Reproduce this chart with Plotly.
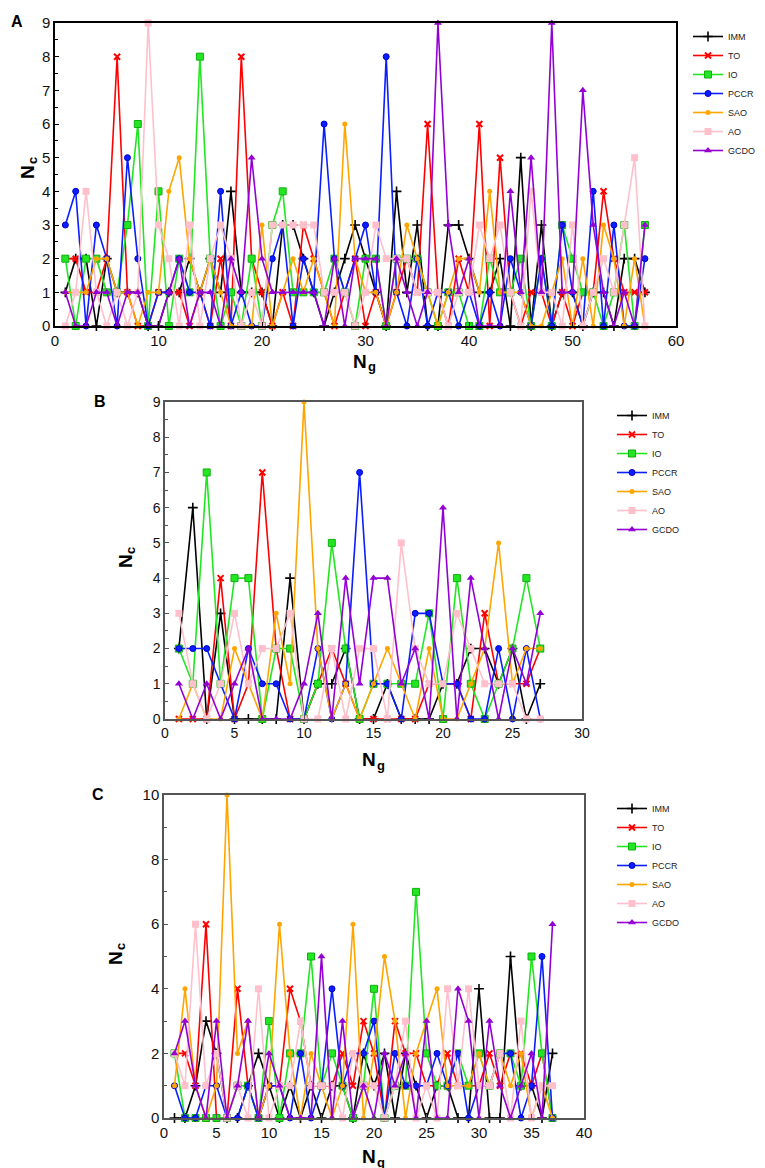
import plotly.graph_objects as go

W, H = 765, 1168

series_names = ["IMM", "TO", "IO", "PCCR", "SAO", "AO", "GCDO"]

# ---------------- Panel A (Ng = 1..57) ----------------
ng_A = list(range(1, 58))
IMM_A = [1,2,2,0,2,1,1,1,0,0,1,1,2,1,2,1,4,1,1,1,0,3,3,2,1,0,1,2,3,2,1,0,4,1,3,0,0,3,3,2,1,1,2,0,5,0,3,0,1,1,0,1,1,0,2,2,1]
TO_A = [2,2,1,1,2,8,1,0,0,1,1,1,0,1,0,2,0,8,2,1,0,1,0,3,2,1,0,1,2,0,1,0,1,2,1,6,1,0,2,1,6,0,5,1,0,1,1,0,1,0,1,1,4,2,1,1,1]
IO_A = [2,0,2,2,1,1,3,6,0,4,0,2,1,8,2,0,1,0,2,0,3,4,1,1,1,1,2,1,0,2,2,0,2,2,2,1,0,1,1,0,0,2,1,1,2,0,2,0,3,2,1,1,0,1,3,0,3]
PCCR_A = [3,4,0,3,2,0,5,2,0,1,1,2,1,1,0,4,0,1,0,0,2,3,0,2,1,6,2,1,2,3,1,8,1,0,2,0,1,1,0,1,0,1,0,2,1,0,2,0,3,1,0,4,0,3,0,0,2]
SAO_A = [1,1,1,2,2,1,1,0,1,1,4,5,2,1,2,1,0,0,0,3,0,1,2,1,2,1,0,6,2,1,1,0,1,3,2,1,0,1,2,2,1,4,1,1,1,0,0,1,2,0,2,0,3,2,0,2,0]
AO_A = [0,1,4,1,0,1,0,1,9,3,2,0,3,0,2,3,2,0,1,0,3,3,3,3,3,1,1,1,0,1,3,2,2,2,1,1,1,0,1,1,3,2,3,1,0,4,1,1,0,3,0,1,2,1,3,5,0]
GCDO_A = [1,0,0,1,1,0,1,1,0,0,1,2,0,1,1,0,2,1,5,2,1,1,1,1,1,0,2,0,2,2,2,0,2,1,0,1,9,3,1,2,0,0,0,4,1,5,1,9,1,1,7,3,1,0,1,0,3]

# ---------------- Panel B (Ng = 1..27) ----------------
ng_B = list(range(1, 28))
IMM_B = [2,6,0,3,0,0,0,0,4,0,1,1,2,0,0,1,0,0,0,1,1,2,2,1,2,0,1]
TO_B = [0,0,0,4,0,1,7,2,0,0,1,2,1,0,0,0,0,0,1,1,1,0,3,1,1,1,2]
IO_B = [2,1,7,1,4,4,0,2,2,0,1,5,2,0,1,1,1,1,3,0,4,1,0,1,2,4,2]
PCCR_B = [2,2,2,1,0,2,1,1,0,0,2,0,1,7,1,1,0,3,3,1,1,0,0,2,0,2,0]
SAO_B = [0,1,0,0,2,1,0,3,1,9,2,0,1,0,1,2,1,0,2,0,0,1,2,5,1,2,2]
AO_B = [3,1,0,1,3,1,2,2,3,0,0,2,0,2,2,0,5,2,1,1,3,2,1,1,1,0,0]
GCDO_B = [1,0,1,0,1,2,0,0,0,1,3,0,4,1,4,4,1,2,0,6,0,4,2,0,2,1,3]

# ---------------- Panel C (Ng = 1..37) ----------------
ng_C = list(range(1, 38))
IMM_C = [0,0,1,3,2,0,0,1,2,1,0,1,0,1,0,1,1,0,2,1,2,0,2,1,0,1,1,0,0,4,0,0,5,1,1,0,2]
TO_C = [2,2,1,6,0,0,4,1,0,1,1,4,3,1,1,1,2,1,3,2,0,3,2,2,1,1,2,1,1,1,2,1,2,2,1,2,0]
IO_C = [2,0,0,0,0,0,1,1,0,3,0,2,2,5,1,2,1,0,1,4,0,1,1,7,2,1,1,2,1,2,1,2,2,1,5,2,0]
PCCR_C = [1,0,0,1,1,0,0,1,0,1,1,0,2,0,1,4,1,2,2,3,0,2,1,1,1,2,1,2,0,1,1,2,2,0,1,5,0]
SAO_C = [1,4,1,0,1,10,2,3,0,1,6,2,0,2,1,0,1,6,0,2,5,3,0,2,3,4,1,1,1,2,1,2,1,2,0,1,0]
AO_C = [2,1,6,1,2,0,1,0,4,0,1,1,3,1,1,1,0,2,1,1,0,1,3,0,1,0,4,1,4,1,1,2,0,3,0,1,1]
GCDO_C = [2,3,1,0,3,0,1,3,0,2,1,0,0,0,5,0,3,0,1,0,2,1,2,0,3,0,0,4,3,0,3,1,0,1,2,0,6]

x_ticks_A = [0, 10, 20, 30, 40, 50, 60]
x_ticks_B = [0, 5, 10, 15, 20, 25, 30]
x_ticks_C = [0, 5, 10, 15, 20, 25, 30, 35, 40]
y_ticks_AB = list(range(0, 10))
y_ticks_C = [0, 2, 4, 6, 8, 10]

panels = [
    ("x", "y", "legend", ng_A, [IMM_A, TO_A, IO_A, PCCR_A, SAO_A, AO_A, GCDO_A]),
    ("x2", "y2", "legend2", ng_B, [IMM_B, TO_B, IO_B, PCCR_B, SAO_B, AO_B, GCDO_B]),
    ("x3", "y3", "legend3", ng_C, [IMM_C, TO_C, IO_C, PCCR_C, SAO_C, AO_C, GCDO_C]),
]

styles = {
    "IMM": dict(color="#000000", symbol="cross-thin", size=7, lw=1.6),
    "TO": dict(color="#FF0000", symbol="x-thin", size=6, lw=2),
    "IO": dict(color="#22E622", symbol="square", size=7, lw=1),
    "PCCR": dict(color="#0A1EFF", symbol="circle", size=6, lw=1),
    "SAO": dict(color="#FFA500", symbol="circle", size=5, lw=0),
    "AO": dict(color="#FFC0CB", symbol="square", size=7, lw=0),
    "GCDO": dict(color="#9400D3", symbol="triangle-up", size=7, lw=0),
}

fig = go.Figure()
for xa, ya, lg, xs, ys_list in panels:
    for name, ys in zip(series_names, ys_list):
        st = styles[name]
        mk = dict(symbol=st["symbol"], size=st["size"], color=st["color"])
        if st["symbol"] in ("cross-thin", "x-thin"):
            mk["line"] = dict(color=st["color"], width=st["lw"])
        elif name == "IO":
            mk["line"] = dict(color="#10B010", width=1)
        elif name == "PCCR":
            mk["line"] = dict(color="#0000CC", width=1)
        fig.add_trace(go.Scatter(
            x=xs, y=ys, name=name, mode="lines+markers",
            xaxis=xa, yaxis=ya, legend=lg,
            line=dict(color=st["color"], width=1.6),
            marker=mk, cliponaxis=False,
        ))

def px_x(p):
    return p / W

def px_y(p):
    return 1 - p / H

font_family = "Arial, Liberation Sans, Helvetica, sans-serif"

def xaxis_cfg(domain, rng, ticks, linecolor, size, anchor):
    return dict(domain=domain, range=rng, tickvals=ticks, showgrid=False, zeroline=False,
                showline=True, linecolor=linecolor, linewidth=1.5, mirror=True,
                ticks="inside", ticklen=4, tickcolor=linecolor, anchor=anchor,
                automargin=False,
                tickfont=dict(family=font_family, size=size, color="#111"))

def yaxis_cfg(domain, rng, ticks, linecolor, size, anchor, minor_dtick):
    return dict(domain=domain, range=rng, tickvals=ticks, showgrid=False, zeroline=False,
                showline=True, linecolor=linecolor, linewidth=1.5, mirror=True,
                ticks="inside", ticklen=4, tickcolor=linecolor, anchor=anchor,
                automargin=False,
                minor=dict(dtick=minor_dtick, ticks="inside", ticklen=3, tickcolor=linecolor),
                tickfont=dict(family=font_family, size=size, color="#111"))

fig.update_layout(
    width=W, height=H, margin=dict(l=0, r=0, t=0, b=0),
    paper_bgcolor="white", plot_bgcolor="white",
    font=dict(family=font_family),
    xaxis=xaxis_cfg([px_x(47), px_x(668)], [0, 60], x_ticks_A, "#000000", 15, "y"),
    yaxis=yaxis_cfg([px_y(318), px_y(15)], [0, 9], y_ticks_AB, "#000000", 15, "x", 0.5),
    xaxis2=xaxis_cfg([px_x(157), px_x(574)], [0, 30], x_ticks_B, "#555555", 14, "y2"),
    yaxis2=yaxis_cfg([px_y(711), px_y(394)], [0, 9], y_ticks_AB, "#555555", 14, "x2", 0.5),
    xaxis3=xaxis_cfg([px_x(156), px_x(576)], [0, 40], x_ticks_C, "#555555", 15, "y3"),
    yaxis3=yaxis_cfg([px_y(1110), px_y(787)], [0, 10], y_ticks_C, "#555555", 15, "x3", 1),
)

leg_common = dict(bgcolor="rgba(0,0,0,0)", borderwidth=0, itemwidth=30,
                  font=dict(family=font_family, size=9, color="#222"),
                  xanchor="left", yanchor="top", tracegroupgap=0)
fig.update_layout(
    legend=dict(x=px_x(680), y=px_y(14), **leg_common),
    legend2=dict(x=px_x(604), y=px_y(393), **leg_common),
    legend3=dict(x=px_x(604), y=px_y(786), **leg_common),
)

ann = []
def add_text(text, x, y, size, angle=0):
    ann.append(dict(text=text, x=px_x(x), y=px_y(y), xref="paper", yref="paper",
                    showarrow=False, xanchor="center", yanchor="middle", textangle=angle,
                    font=dict(family=font_family, size=size, color="#000")))

# panel letters
add_text("<b>A</b>", 9, 13, 16)
add_text("<b>B</b>", 92, 394, 16)
add_text("<b>C</b>", 90, 787, 16)

# y-axis titles: N with subscript c (rotated)
for (nx, ny, cx, cy) in [(19, 164, 24, 153), (117, 553, 122, 542), (107, 950, 112, 939)]:
    add_text("<b>N</b>", nx, ny, 19, -90)
    add_text("<b>c</b>", cx, cy, 13, -90)

# x-axis titles: N with subscript g
for (nx, ny, gx, gy) in [(352, 353, 364, 359), (361, 751, 373, 757), (361, 1148, 373, 1154)]:
    add_text("<b>N</b>", nx, ny, 19)
    add_text("<b>g</b>", gx, gy, 13)

fig.update_layout(annotations=ann)

fig.write_html("out.html")
